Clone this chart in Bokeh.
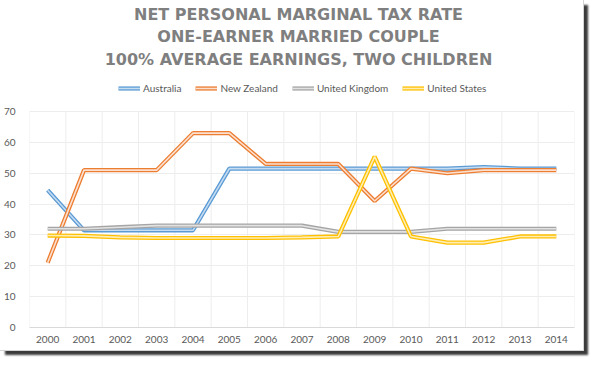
from bokeh.plotting import figure
from bokeh.models import Label, Legend, LegendItem, FixedTicker, Range1d
from bokeh.embed import file_html
from bokeh.resources import INLINE

years = [2000, 2001, 2002, 2003, 2004, 2005, 2006, 2007, 2008, 2009, 2010, 2011, 2012, 2013, 2014]
australia = [44.5, 31.5, 31.5, 31.5, 31.5, 51.5, 51.5, 51.5, 51.5, 51.5, 51.5, 51.5, 52.0, 51.5, 51.5]
new_zealand = [21.0, 51.0, 51.0, 51.0, 63.0, 63.0, 53.0, 53.0, 53.0, 41.0, 51.5, 50.0, 51.0, 51.0, 51.0]
united_kingdom = [32.0, 32.0, 32.5, 33.0, 33.0, 33.0, 33.0, 33.0, 31.0, 31.0, 31.0, 32.0, 32.0, 32.0, 32.0]
united_states = [29.8, 29.7, 29.2, 29.0, 29.0, 29.0, 29.0, 29.2, 29.5, 55.4, 29.5, 27.5, 27.5, 29.5, 29.5]
y_ticks = [0, 10, 20, 30, 40, 50, 60, 70]
title_lines = ["NET PERSONAL MARGINAL TAX RATE", "ONE-EARNER MARRIED COUPLE", "100% AVERAGE EARNINGS, TWO CHILDREN"]

series = [
    ("Australia", australia, "#5B9BD5", "#C5DCF1"),
    ("New Zealand", new_zealand, "#ED7D31", "#FBE0CF"),
    ("United Kingdom", united_kingdom, "#A5A5A5", "#E2E2E2"),
    ("United States", united_states, "#FFC000", "#FFEDB3"),
]

FONT = "Lato"
TXT = "#595959"

# the frame spans the full height; values above 70 leave room for title and legend
p = figure(width=583, height=350, output_backend="svg", toolbar_location=None,
           x_range=Range1d(years[0] - 0.5, years[-1] + 0.5), y_range=Range1d(0, 105.97),
           min_border_left=20, min_border_right=9, min_border_bottom=23, min_border_top=0)
p.styles = {"box-shadow": "0 0 0 1px #d4d4d4, 5px 5px 2px #3a3a3a"}
p.outline_line_color = None
p.background_fill_color = "white"
p.border_fill_color = "white"

# vertical category-boundary gridlines, limited to the 0..70 data area
bounds = [y - 0.5 for y in years] + [years[-1] + 0.5]
p.segment(x0=bounds, y0=[y_ticks[0]] * len(bounds), x1=bounds, y1=[y_ticks[-1]] * len(bounds),
          line_color="#EDEDED", line_width=1)
p.xgrid.grid_line_color = None
p.ygrid.grid_line_color = "#EDEDED"

items = []
for name, vals, col, inner in series:
    r1 = p.line(years, vals, line_color=col, line_width=4.2)
    r2 = p.line(years, vals, line_color=inner, line_width=1.6)
    items.append(LegendItem(label=name, renderers=[r1, r2]))

# axes
p.xaxis.ticker = FixedTicker(ticks=years)
p.xaxis.major_label_overrides = {y: str(y) for y in years}
p.yaxis.ticker = FixedTicker(ticks=y_ticks)
for ax in (p.xaxis[0], p.yaxis[0]):
    ax.major_tick_line_color = None
    ax.minor_tick_line_color = None
    ax.major_label_text_font = FONT
    ax.major_label_text_font_size = "10px"
    ax.major_label_text_color = TXT
p.xaxis.axis_line_color = "#D9D9D9"
p.yaxis.axis_line_color = None
p.xaxis.major_label_standoff = 2
p.yaxis.major_label_standoff = 8

legend = Legend(items=items, orientation="horizontal", location=(89, 233),
                label_text_font=FONT, label_text_font_size="10px", label_text_color=TXT,
                glyph_width=22, glyph_height=10, label_standoff=3, spacing=14,
                padding=0, margin=0, border_line_color=None, background_fill_alpha=0)
p.add_layout(legend)

# title: three centred lines (screen units from the frame's bottom-left)
for t, sy in zip(title_lines, [313, 291, 268.5]):
    p.add_layout(Label(x=269, y=sy, x_units="screen", y_units="screen", text=t,
                       text_align="center", text_baseline="middle",
                       text_font="DejaVu Sans", text_font_style="bold",
                       text_font_size="16px", text_color="#7F7F7F"))

open("out.html", "w").write(file_html(p, INLINE))
